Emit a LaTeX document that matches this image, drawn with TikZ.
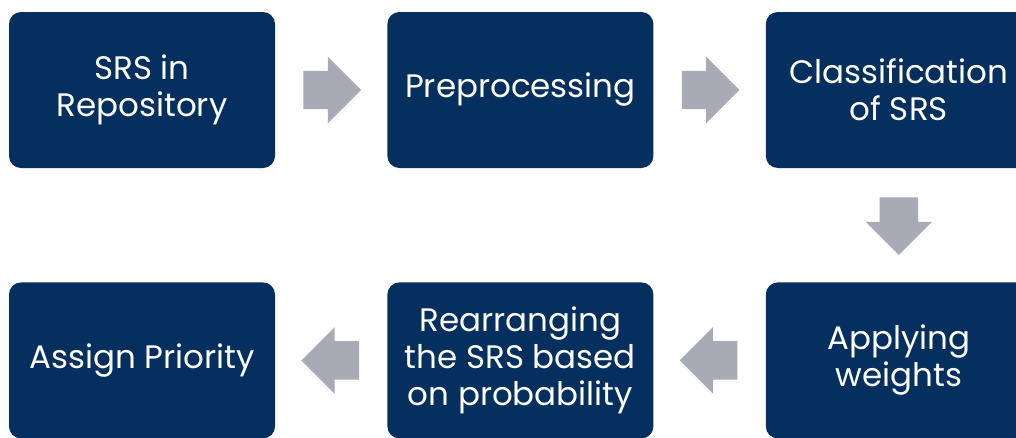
\documentclass[tikz,border=0pt]{standalone}
\usepackage{fontspec}
\setmainfont{Poppins}
\usetikzlibrary{shapes,arrows,positioning,calc}
\definecolor{navy}{HTML}{052F5F}
\definecolor{arrowgray}{HTML}{A8AAB5}
\tikzset{
  step box/.style = {fill=navy, rounded corners=12pt, minimum width=266pt, minimum height=156pt,
                     text=white, align=center, font=\fontsize{32.5}{37}\selectfont, inner sep=0pt},
  flow/.style     = {single arrow, fill=arrowgray, minimum height=57pt, inner sep=19pt,
                     single arrow head extend=14pt, single arrow head indent=0pt, anchor=tail}
}

\begin{document}
\begin{tikzpicture}[x=1pt, y=-1pt, node distance=112pt]
\useasboundingbox (0,0) rectangle (1016,437);

% Top row
\node [step box] (srs) at (142,90) {SRS in\\Repository};
\node [step box, right=of srs] (prep) {Preprocessing};
\node [step box, right=of prep] (class) {Classification\\of SRS};

% Bottom row
\node [step box, below=114pt of class] (weights) {Applying\\weights};
\node [step box, left=of weights] (rearr) {Rearranging\\the SRS based\\on probability};
\node [step box, left=of rearr] (prio) {Assign Priority};

% Arrows (tail placed half a length before the middle of each gap)
\node [flow] (a1) at ($(srs.east)!0.5!(prep.west)+(-28,0)$) {};
\node [flow] (a2) at ($(prep.east)!0.5!(class.west)+(-28,0)$) {};
\node [flow, rotate=-90] (a3) at ($(class.south)!0.5!(weights.north)+(0,-28)$) {};
\node [flow, rotate=180] (a4) at ($(weights.west)!0.5!(rearr.east)+(28,0)$) {};
\node [flow, rotate=180] (a5) at ($(rearr.west)!0.5!(prio.east)+(28,0)$) {};

\end{tikzpicture}
\end{document}
